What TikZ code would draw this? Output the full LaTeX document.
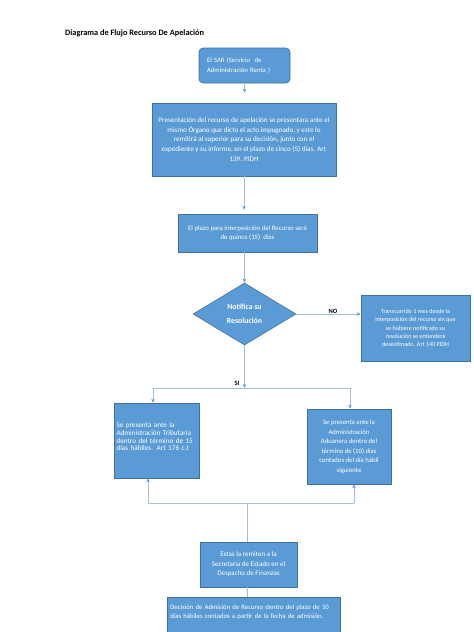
\documentclass[tikz,border=0pt]{standalone}
\usepackage{fontspec}
\setmainfont{Carlito}
\usetikzlibrary{shapes.geometric,arrows.meta}
\definecolor{boxfill}{RGB}{91,155,213}
\definecolor{boxline}{RGB}{65,113,156}
\definecolor{connc}{RGB}{165,190,215}
\begin{document}
\begin{tikzpicture}[x=1pt,y=-1pt,
  box/.style={draw=boxline,line width=0.6pt,fill=boxfill,text=white,inner sep=0pt,font=\fontsize{6.2}{9.6}\selectfont},
  conn/.style={draw=connc,line width=0.7pt},
  arr/.style={conn,-{Stealth[length=4pt,width=3.5pt,color=boxfill]}},
  lbl/.style={font=\bfseries\fontsize{6.5}{8}\selectfont,text=black,inner sep=0pt}
]
\clip (0,0) rectangle (474,632);
\fill[white] (0,0) rectangle (474,632);

\node[anchor=west,inner sep=0pt,font=\bfseries\fontsize{8.3}{10}\selectfont] (title) at (65,33) {Diagrama de Flujo Recurso De Apelación};

\node[box,rounded corners=4pt,minimum width=91pt,minimum height=35pt,text width=75pt,align=left,font=\fontsize{6.7}{9.8}\selectfont] (b1) at (244.5,65.5)
  {El SAR (Servicio\ \ de\\Administración Renta )};

\node[box,minimum width=184pt,minimum height=73pt,align=center,font=\fontsize{7.1}{9.8}\selectfont] (b2) at (244,139.5)
  {Presentación del recurso de apelación se presentara ante el\\
   mismo Órgano que dicto el acto impugnado, y este lo\\
   remitirá al superior para su decisión, junto con el\\
   expediente y su informe, en el plazo de cinco (5) días. Art\\
   139. PJDH};

\node[box,minimum width=139pt,minimum height=38pt,align=center,font=\fontsize{6.8}{9.4}\selectfont] (b3) at (247.5,233)
  {El plazo para interpesición del Recurso será\\de quince (15)\ \ días};

\node[box,shape=diamond,minimum width=103pt,minimum height=62pt,align=center,font=\bfseries\fontsize{7.8}{13.5}\selectfont] (d) at (244.5,314)
  {Notifica su\\Resolución};

\node[box,minimum width=109pt,minimum height=66pt,align=center,font=\fontsize{6.1}{8.4}\selectfont] (no) at (415.5,328)
  {Transcurrido 1 mes desde la\\
   interposición del recurso sin que\\
   se hubiere notificado su\\
   resolución se entenderá\\
   desestimado. Art 140 PJDH};

\node[box,minimum width=85pt,minimum height=75pt,text width=80pt,align=left,font=\fontsize{7.2}{7.6}\selectfont] (lb) at (156.5,440.5)
  {Se presenta ante la\\
   Administración Tributaria\\
   dentro del término de 15\\
   días hábiles. Art 176 c.t\\ \mbox{}};

\node[box,minimum width=84pt,minimum height=75pt,align=center,font=\fontsize{6.7}{9.5}\selectfont] (rb) at (349,446.5)
  {Se presenta ante la\\
   Administración\\
   Aduanera dentro del\\
   término de (10) días\\
   contados del día hábil\\
   siguiente};

\node[box,minimum width=97pt,minimum height=45pt,align=center,font=\fontsize{7.0}{9.5}\selectfont] (est) at (248.5,564.5)
  {Estas la remiten a la\\
   Secretaria de Estado en el\\
   Despacho de Finanzas};

\node[box,anchor=north west,minimum width=173pt,minimum height=48pt,text width=167pt,align=left,font=\fontsize{6.7}{9.3}\selectfont] (dec) at (167,597)
  {Decisión de Admisión de Recurso dentro del plazo de 10\\
   días hábiles contados a partir de la fecha de admisión.\\ \mbox{}\\ \mbox{}};

% connectors
\draw[arr,shorten >=10pt] (b1.south) -- (b1.south |- b2.north);
\draw[arr,shorten >=4pt] (b2.south) -- (b2.south |- b3.north);
\draw[arr] (d.north |- b3.south) -- (d.north);
\draw[arr] (d.east) -- (no.west |- d.east);
\node[lbl] (nolbl) at (333,311) {NO};

\coordinate (si) at (244.5,388);
\coordinate (sil) at (153,388);
\coordinate (sir) at (350,388);
\draw[arr] (d.south) -- (si);
\draw[conn] (sil) -- (sir);
\draw[arr] (sil) -- (lb.north -| sil);
\draw[arr] (sir) -- (rb.north -| sir);
\node[lbl] (silbl) at (237,383.5) {SI};

\coordinate (jl) at (148,503);
\coordinate (jr) at (354,503);
\coordinate (jc) at (247,503);
\draw[conn] (jl) -- (jr);
\draw[arr] (jl) -- (lb.south -| jl);
\draw[arr] (jr) -- (rb.south -| jr);
\draw[conn] (jc) -- (est.north -| jc);
\draw[conn] (est.south -| jc) -- (dec.north -| jc);
\end{tikzpicture}
\end{document}
